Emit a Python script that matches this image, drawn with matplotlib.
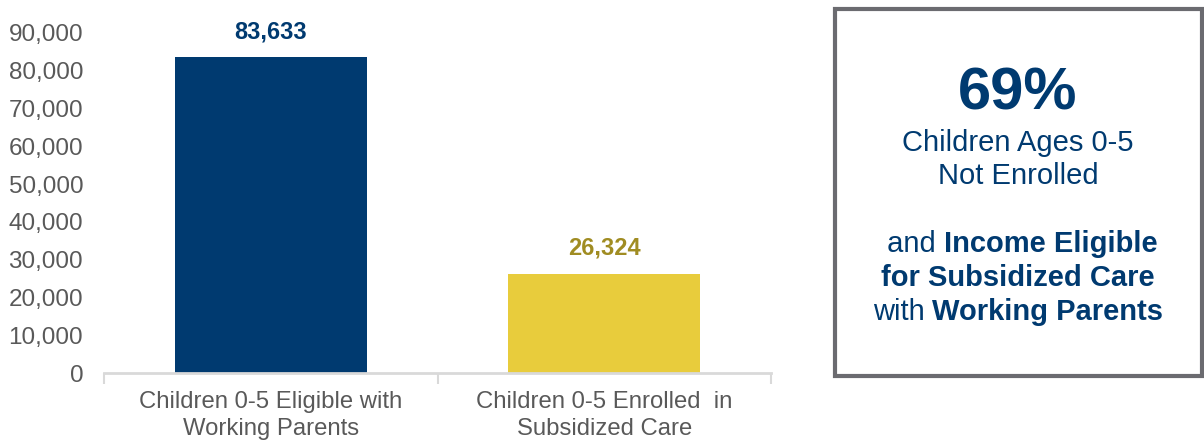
import matplotlib
matplotlib.use("Agg")
import matplotlib.pyplot as plt
from matplotlib.patches import Rectangle

plt.rcParams['font.family'] = ['Liberation Sans', 'DejaVu Sans']

categories = ["Children 0-5 Eligible with\nWorking Parents",
              "Children 0-5 Enrolled  in\nSubsidized Care"]
values = [83633, 26324]
bar_colors = ["#003a70", "#e8cc3c"]
label_colors = ["#003a70", "#a08c22"]
yticks = [0, 10000, 20000, 30000, 40000, 50000, 60000, 70000, 80000, 90000]

headline = "69%"
sub_lines = ["Children Ages 0-5", "Not Enrolled"]
# each line is a list of (text, bold) segments
rich_lines = [
    [(" and ", False), ("Income Eligible", True)],
    [("for Subsidized Care", True)],
    [("with ", False), ("Working Parents", True)],
]

W, H = 1204, 442
fig = plt.figure(figsize=(W / 100, H / 100), dpi=100)
ax = fig.add_axes([104 / W, 69 / H, (771 - 104) / W, (373 - 33) / H])

x = range(len(categories))
ax.bar(x, values, width=0.575, color=bar_colors, zorder=2)
for xi, v, c in zip(x, values, label_colors):
    ax.annotate(f"{v:,}", (xi, v), xytext=(0, 10), textcoords="offset points",
                ha="center", va="bottom", fontsize=17, fontweight="bold", color=c)

ax.set_xlim(-0.5, 1.5)
ax.set_ylim(0, 90000)
ax.set_yticks(yticks)
ax.set_yticklabels([f"{t:,}" for t in yticks], fontsize=17.5, color="#595959")
ax.tick_params(axis="y", length=0, pad=15)
ax.set_xticks(list(x))
ax.set_xticklabels(categories, fontsize=17.2, color="#595959", linespacing=1.3)
ax.set_xticks([-0.5, 0.5, 1.5], minor=True)
ax.tick_params(axis="x", which="major", length=0, pad=13)
ax.tick_params(axis="x", which="minor", length=8, width=1.5, color="#d9d9d9")
for s in ["top", "right", "left"]:
    ax.spines[s].set_visible(False)
ax.spines["bottom"].set_color("#d9d9d9")
ax.spines["bottom"].set_linewidth(2)

# summary box
box = Rectangle((835 / W, 1 - 376 / H), (1202 - 835) / W, (376 - 9) / H,
                transform=fig.transFigure, facecolor="white",
                edgecolor="#6b6b70", linewidth=3)
fig.patches.append(box)

navy = "#003a70"
cx = 1018 / W
fig.text(cx, 1 - 94 / H, headline, ha="center", va="center",
         fontsize=43, fontweight="bold", color=navy)
for i, line in enumerate(sub_lines):
    fig.text(cx, 1 - (143 + 33 * i) / H, line, ha="center", va="center",
             fontsize=21, color=navy)

renderer = fig.canvas.get_renderer()
for i, line in enumerate(rich_lines):
    y = 1 - (244 + 34 * i) / H
    texts = []
    for seg, bold in line:
        t = fig.text(0, y, seg, ha="left", va="center", fontsize=21,
                     fontweight="bold" if bold else "normal", color=navy)
        texts.append(t)
    widths = [t.get_window_extent(renderer).width for t in texts]
    total = sum(widths)
    left = cx * W - total / 2
    for t, w in zip(texts, widths):
        t.set_x(left / W)
        left += w

fig.savefig("out.png", dpi=100)
